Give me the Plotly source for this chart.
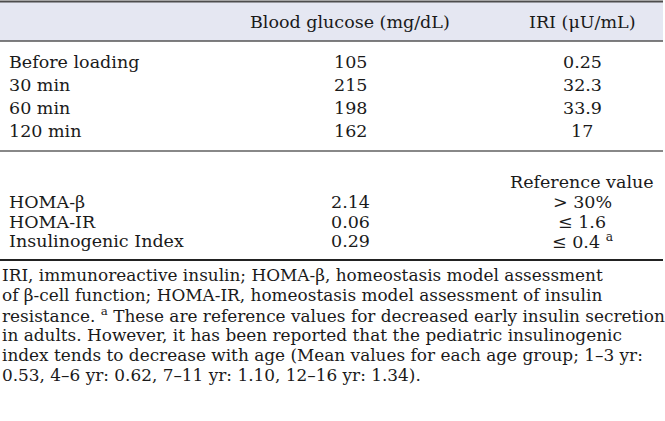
import plotly.graph_objects as go

# ---- data ----
col_headers = ["Blood glucose (mg/dL)", "IRI (μU/mL)"]
time_points = ["Before loading", "30 min", "60 min", "120 min"]
blood_glucose = ["105", "215", "198", "162"]
iri_values = ["0.25", "32.3", "33.9", "17"]

ref_header = "Reference value"
index_names = ["HOMA-β", "HOMA-IR", "Insulinogenic Index"]
index_values = ["2.14", "0.06", "0.29"]
reference_values = ["> 30%", "≤ 1.6", "≤ 0.4 <sup>a</sup>"]

footnote_lines = [
    "IRI, immunoreactive insulin; HOMA-β, homeostasis model assessment",
    "of β-cell function; HOMA-IR, homeostasis model assessment of insulin",
    "resistance. <sup>a</sup> These are reference values for decreased early insulin secretion",
    "in adults. However, it has been reported that the pediatric insulinogenic",
    "index tends to decrease with age (Mean values for each age group; 1–3 yr:",
    "0.53, 4–6 yr: 0.62, 7–11 yr: 1.10, 12–16 yr: 1.34).",
]

# ---- layout constants ----
W, H = 665, 421
FONT = "DejaVu Serif"
FS = 17.5
FS_NOTE = 16.9
COL_X = [350, 582]
LABEL_X = 7
HEADER_Y = 22
ROW_Y = [62, 85, 108, 131]
REF_Y = 182
IDX_Y = [202, 222, 241]
NOTE_Y0, NOTE_DY = 275, 20

fig = go.Figure()
shapes = [
    dict(type="rect", x0=0, x1=663, y0=2, y1=41, fillcolor="#e5e7f2", line_width=0, layer="below"),
    dict(type="line", x0=0, x1=663, y0=1.5, y1=1.5, line=dict(color="#4d4d4d", width=2)),
    dict(type="line", x0=0, x1=663, y0=41, y1=41, line=dict(color="#555555", width=1.5)),
    dict(type="line", x0=0, x1=663, y0=151, y1=151, line=dict(color="#606060", width=1.5)),
    dict(type="line", x0=0, x1=663, y0=260, y1=260, line=dict(color="#222222", width=2)),
]

ann = []
def txt(x, y, s, anchor="center", size=FS):
    ann.append(dict(x=x, y=y, xref="x", yref="y", text=s, showarrow=False,
                    xanchor=anchor, yanchor="middle",
                    font=dict(family=FONT, size=size, color="#1a1a1a")))

for cx, h in zip(COL_X, col_headers):
    txt(cx, HEADER_Y, h)
for y, lab, g, i in zip(ROW_Y, time_points, blood_glucose, iri_values):
    txt(LABEL_X, y, lab, "left")
    txt(COL_X[0], y, g)
    txt(COL_X[1], y, i)
txt(COL_X[1], REF_Y, ref_header)
for y, lab, v, r in zip(IDX_Y, index_names, index_values, reference_values):
    txt(LABEL_X, y, lab, "left")
    txt(COL_X[0], y, v)
    txt(COL_X[1], y, r)
for k, line in enumerate(footnote_lines):
    txt(0, NOTE_Y0 + k * NOTE_DY, line, "left", FS_NOTE)

fig.update_layout(
    width=W, height=H, margin=dict(l=0, r=0, t=0, b=0),
    paper_bgcolor="white", plot_bgcolor="white",
    xaxis=dict(range=[0, W], visible=False, fixedrange=True),
    yaxis=dict(range=[H, 0], visible=False, fixedrange=True),
    shapes=shapes, annotations=ann, showlegend=False,
)
fig.write_html("out.html", config={"displayModeBar": False},
               post_script="document.body.style.margin='0';document.body.style.overflow='hidden';")
